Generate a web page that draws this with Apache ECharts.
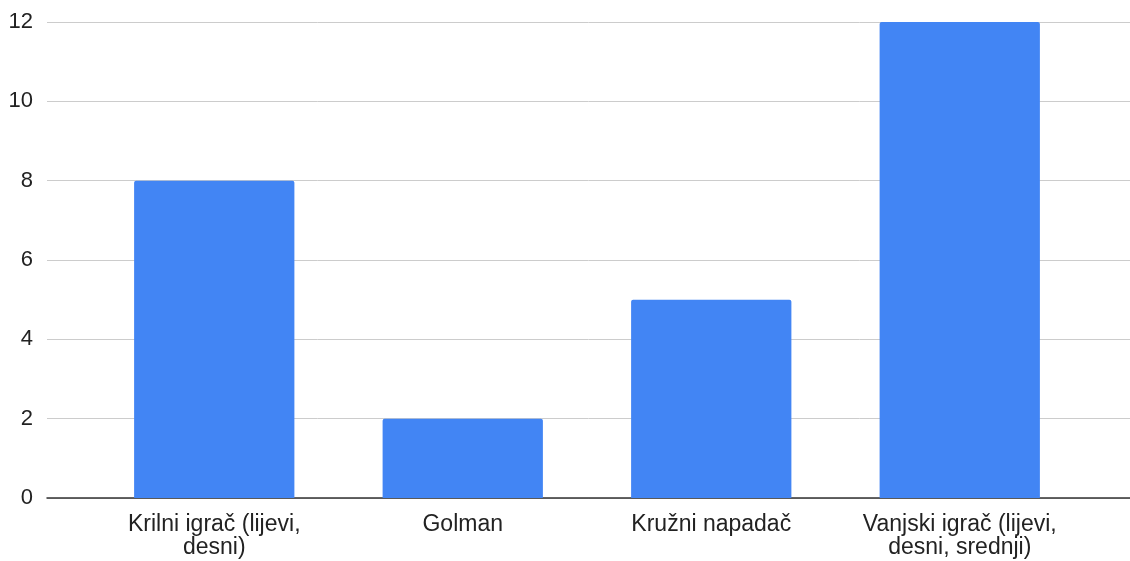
<!DOCTYPE html>
<html>
<head>
<meta charset="utf-8">
<script src="https://cdn.jsdelivr.net/npm/echarts@6/dist/echarts.min.js"></script>
<style>
html,body{margin:0;padding:0;background:#fff;}
#chart{width:1130px;height:561px;}
</style>
</head>
<body>
<div id="chart"></div>
<script>
const categories = ["Krilni igrač (lijevi, desni)", "Golman", "Kružni napadač", "Vanjski igrač (lijevi, desni, srednji)"];
const values = [8, 2, 5, 12];
const yMin = 0, yMax = 12, yInterval = 2;

const font = 'Liberation Sans, Arial, sans-serif';
const xFontSize = 23;
const wrapWidth = 205;
const ctx = document.createElement('canvas').getContext('2d');
ctx.font = xFontSize + 'px ' + font;
function wrap(text) {
  const words = text.split(' ');
  const lines = [];
  let cur = '';
  for (const w of words) {
    const t = cur ? cur + ' ' + w : w;
    if (cur && ctx.measureText(t).width > wrapWidth) { lines.push(cur); cur = w; }
    else cur = t;
  }
  if (cur) lines.push(cur);
  return lines.join('\n');
}

const chart = echarts.init(document.getElementById('chart'), null, {renderer: 'canvas'});
chart.setOption({
  animation: false,
  backgroundColor: '#ffffff',
  grid: [
    {left: 47, right: 0, top: 22, bottom: 63},
    {left: 90, right: 46, top: 22, bottom: 63}
  ],
  xAxis: [
    {gridIndex: 0, type: 'value', min: 0, max: 1, axisLabel: {show: false}, axisTick: {show: false},
     splitLine: {show: false}, axisLine: {show: true, lineStyle: {color: '#333333', width: 1.5}}},
    {gridIndex: 1, type: 'category', data: categories, axisLine: {show: false}, axisTick: {show: false},
     axisLabel: {interval: 0, color: '#222222', fontFamily: font, fontSize: xFontSize, lineHeight: 23, margin: 15,
       formatter: wrap}}
  ],
  yAxis: [
    {gridIndex: 0, type: 'value', min: yMin, max: yMax, interval: yInterval,
     axisLine: {show: false}, axisTick: {show: false},
     axisLabel: {color: '#222222', fontFamily: font, fontSize: 22, margin: 14},
     splitLine: {show: true, lineStyle: {color: '#cccccc', width: 1}}},
    {gridIndex: 1, type: 'value', min: yMin, max: yMax, interval: yInterval, show: false, splitLine: {show: false}}
  ],
  series: [{
    type: 'bar', xAxisIndex: 1, yAxisIndex: 1, data: values, barCategoryGap: '35.5%',
    itemStyle: {color: '#4285F4', borderRadius: [2, 2, 0, 0]}
  }]
});
</script>
</body>
</html>
